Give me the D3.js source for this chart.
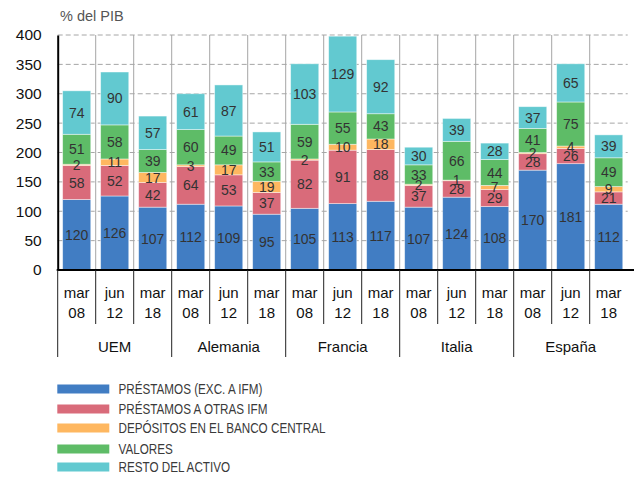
<!DOCTYPE html>
<html>
<head>
<meta charset="utf-8">
<script src="https://cdn.jsdelivr.net/npm/d3@7"></script>
<style>
  html, body { margin: 0; padding: 0; background: #fff; }
  svg { display: block; }
</style>
</head>
<body>
<svg id="chart" width="634" height="478"></svg>
<script>
// Countries and reporting dates
const countries = ["UEM", "Alemania", "Francia", "Italia", "España"];
const periods = [["mar", "08"], ["jun", "12"], ["mar", "18"]];

// Series (% del PIB), one value per country/date, in the order above
const prestamos   = [120, 126, 107, 112, 109, 95, 105, 113, 117, 107, 124, 108, 170, 181, 112];
const prestIFM    = [58, 52, 42, 64, 53, 37, 82, 91, 88, 37, 28, 29, 28, 26, 21];
const depositos   = [2, 11, 17, 3, 17, 19, 2, 10, 18, 2, 1, 7, 2, 4, 9];
const valores     = [51, 58, 39, 60, 49, 33, 59, 55, 43, 33, 66, 44, 41, 75, 49];
const resto       = [74, 90, 57, 61, 87, 51, 103, 129, 92, 30, 39, 28, 37, 65, 39];

const seriesNames = [
  "PRÉSTAMOS (EXC. A IFM)",
  "PRÉSTAMOS A OTRAS IFM",
  "DEPÓSITOS EN EL BANCO CENTRAL",
  "VALORES",
  "RESTO DEL ACTIVO"
];
const seriesColors = ["#417DC3", "#D96B7A", "#FEB760", "#5EBC67", "#62C9D0"];
const yTicks = [0, 50, 100, 150, 200, 250, 300, 350, 400];

const seriesValues = [prestamos, prestIFM, depositos, valores, resto];
const keys = seriesNames.map((_, i) => "s" + i);

const rows = [];
countries.forEach((c, ci) => {
  periods.forEach((p, pi) => {
    const idx = ci * 3 + pi;
    const row = { id: idx, country: c, m: p[0], yr: p[1] };
    keys.forEach((k, si) => row[k] = seriesValues[si][idx]);
    rows.push(row);
  });
});

const stacked = d3.stack().keys(keys)(rows);

const svg = d3.select("#chart");
const plotLeft = 57.7, plotRight = 627.7, plotTop = 35, plotBottom = 270;

const x = d3.scaleBand()
  .domain(rows.map(d => d.id))
  .range([plotLeft, plotRight])
  .paddingInner(0.26)
  .paddingOuter(0.13);
const step = x.step();
const gap = (step - x.bandwidth()) / 2;

const y = d3.scaleLinear().domain([0, 400]).range([plotBottom, plotTop]);

const font = "'Liberation Sans', Arial, Helvetica, sans-serif";

// Dashed horizontal gridlines
svg.append("g")
  .selectAll("line")
  .data(yTicks.filter(t => t > 0))
  .join("line")
  .attr("x1", plotLeft).attr("x2", plotRight)
  .attr("y1", d => y(d)).attr("y2", d => y(d))
  .attr("stroke", "#a6a6a6")
  .attr("stroke-width", 1)
  .attr("stroke-dasharray", "5,3");

// Vertical separators between columns inside the plot
svg.append("g")
  .selectAll("line")
  .data(rows.slice(1))
  .join("line")
  .attr("x1", d => x(d.id) - gap)
  .attr("x2", d => x(d.id) - gap)
  .attr("y1", plotTop).attr("y2", plotBottom)
  .attr("stroke", "#a6a6a6")
  .attr("stroke-width", 1);

// Stacked bars
const layers = svg.append("g")
  .selectAll("g")
  .data(stacked)
  .join("g")
  .attr("fill", (d, i) => seriesColors[i]);

layers.selectAll("rect")
  .data(d => d)
  .join("rect")
  .attr("x", d => x(d.data.id))
  .attr("width", x.bandwidth())
  .attr("y", d => y(d[1]))
  .attr("height", d => y(d[0]) - y(d[1]))
  .attr("stroke", "rgba(255,255,255,0.55)")
  .attr("stroke-width", 0.8);

// Value labels, centred in each segment
const labels = svg.append("g")
  .attr("font-family", font)
  .attr("font-size", 14)
  .attr("fill", "#333")
  .attr("text-anchor", "middle");

stacked.forEach((layer, si) => {
  labels.selectAll(null)
    .data(layer)
    .join("text")
    .attr("x", d => x(d.data.id) + x.bandwidth() / 2)
    .attr("y", d => y((d[0] + d[1]) / 2))
    .attr("dy", "0.36em")
    .text(d => d.data[keys[si]]);
});

// Y axis
const yAxis = d3.axisLeft(y).tickValues(yTicks).tickSize(0).tickPadding(16);
const gy = svg.append("g")
  .attr("transform", `translate(${plotLeft},0)`)
  .call(yAxis);
gy.select(".domain").attr("stroke", "#000").attr("stroke-width", 2);
gy.selectAll("text")
  .attr("font-family", font)
  .attr("font-size", 15.5)
  .attr("fill", "#111");

// Axis baseline
svg.append("line")
  .attr("x1", plotLeft - 1).attr("x2", 634)
  .attr("y1", plotBottom).attr("y2", plotBottom)
  .attr("stroke", "#000").attr("stroke-width", 2);

// Unit label
svg.append("text")
  .attr("x", 60).attr("y", 21)
  .attr("font-family", font)
  .attr("font-size", 14.5)
  .attr("fill", "#555")
  .text("% del PIB");

// Category axis: period labels and separators
const xa = svg.append("g")
  .attr("font-family", font)
  .attr("font-size", 15)
  .attr("fill", "#111")
  .attr("text-anchor", "middle");

xa.selectAll("line.sep")
  .data(rows)
  .join("line")
  .attr("class", "sep")
  .attr("x1", d => x(d.id) - gap)
  .attr("x2", d => x(d.id) - gap)
  .attr("y1", plotBottom)
  .attr("y2", d => d.id % 3 === 0 ? 357 : 324)
  .attr("stroke", "#222").attr("stroke-width", 1);

xa.selectAll("text.m")
  .data(rows)
  .join("text")
  .attr("class", "m")
  .attr("x", d => x(d.id) + x.bandwidth() / 2)
  .attr("y", 298)
  .text(d => d.m);

xa.selectAll("text.yr")
  .data(rows)
  .join("text")
  .attr("class", "yr")
  .attr("x", d => x(d.id) + x.bandwidth() / 2)
  .attr("y", 318)
  .text(d => d.yr);

xa.selectAll("text.c")
  .data(countries)
  .join("text")
  .attr("class", "c")
  .attr("x", (d, i) => plotLeft + step * (i * 3 + 1.5))
  .attr("y", 352)
  .text(d => d);

// Legend with condensed lettering: squeeze horizontally so the
// longest entry spans about 207px
const legendY = [389, 409, 428, 449, 467];
const lg = svg.append("g");
const legendTexts = [];
seriesNames.forEach((name, i) => {
  lg.append("rect")
    .attr("x", 57.3).attr("y", legendY[i] - 4.5)
    .attr("width", 52).attr("height", 9)
    .attr("fill", seriesColors[i]);
  legendTexts.push(lg.append("text")
    .attr("dy", "0.36em")
    .attr("font-family", font)
    .attr("font-size", 15)
    .attr("fill", "#3a3a3a")
    .text(name));
});
const widest = d3.max(legendTexts, t => t.node().getComputedTextLength());
const squeeze = 207 / widest;
legendTexts.forEach((t, i) =>
  t.attr("transform", `translate(118.5,${legendY[i]}) scale(${squeeze},1)`));
</script>
</body>
</html>
